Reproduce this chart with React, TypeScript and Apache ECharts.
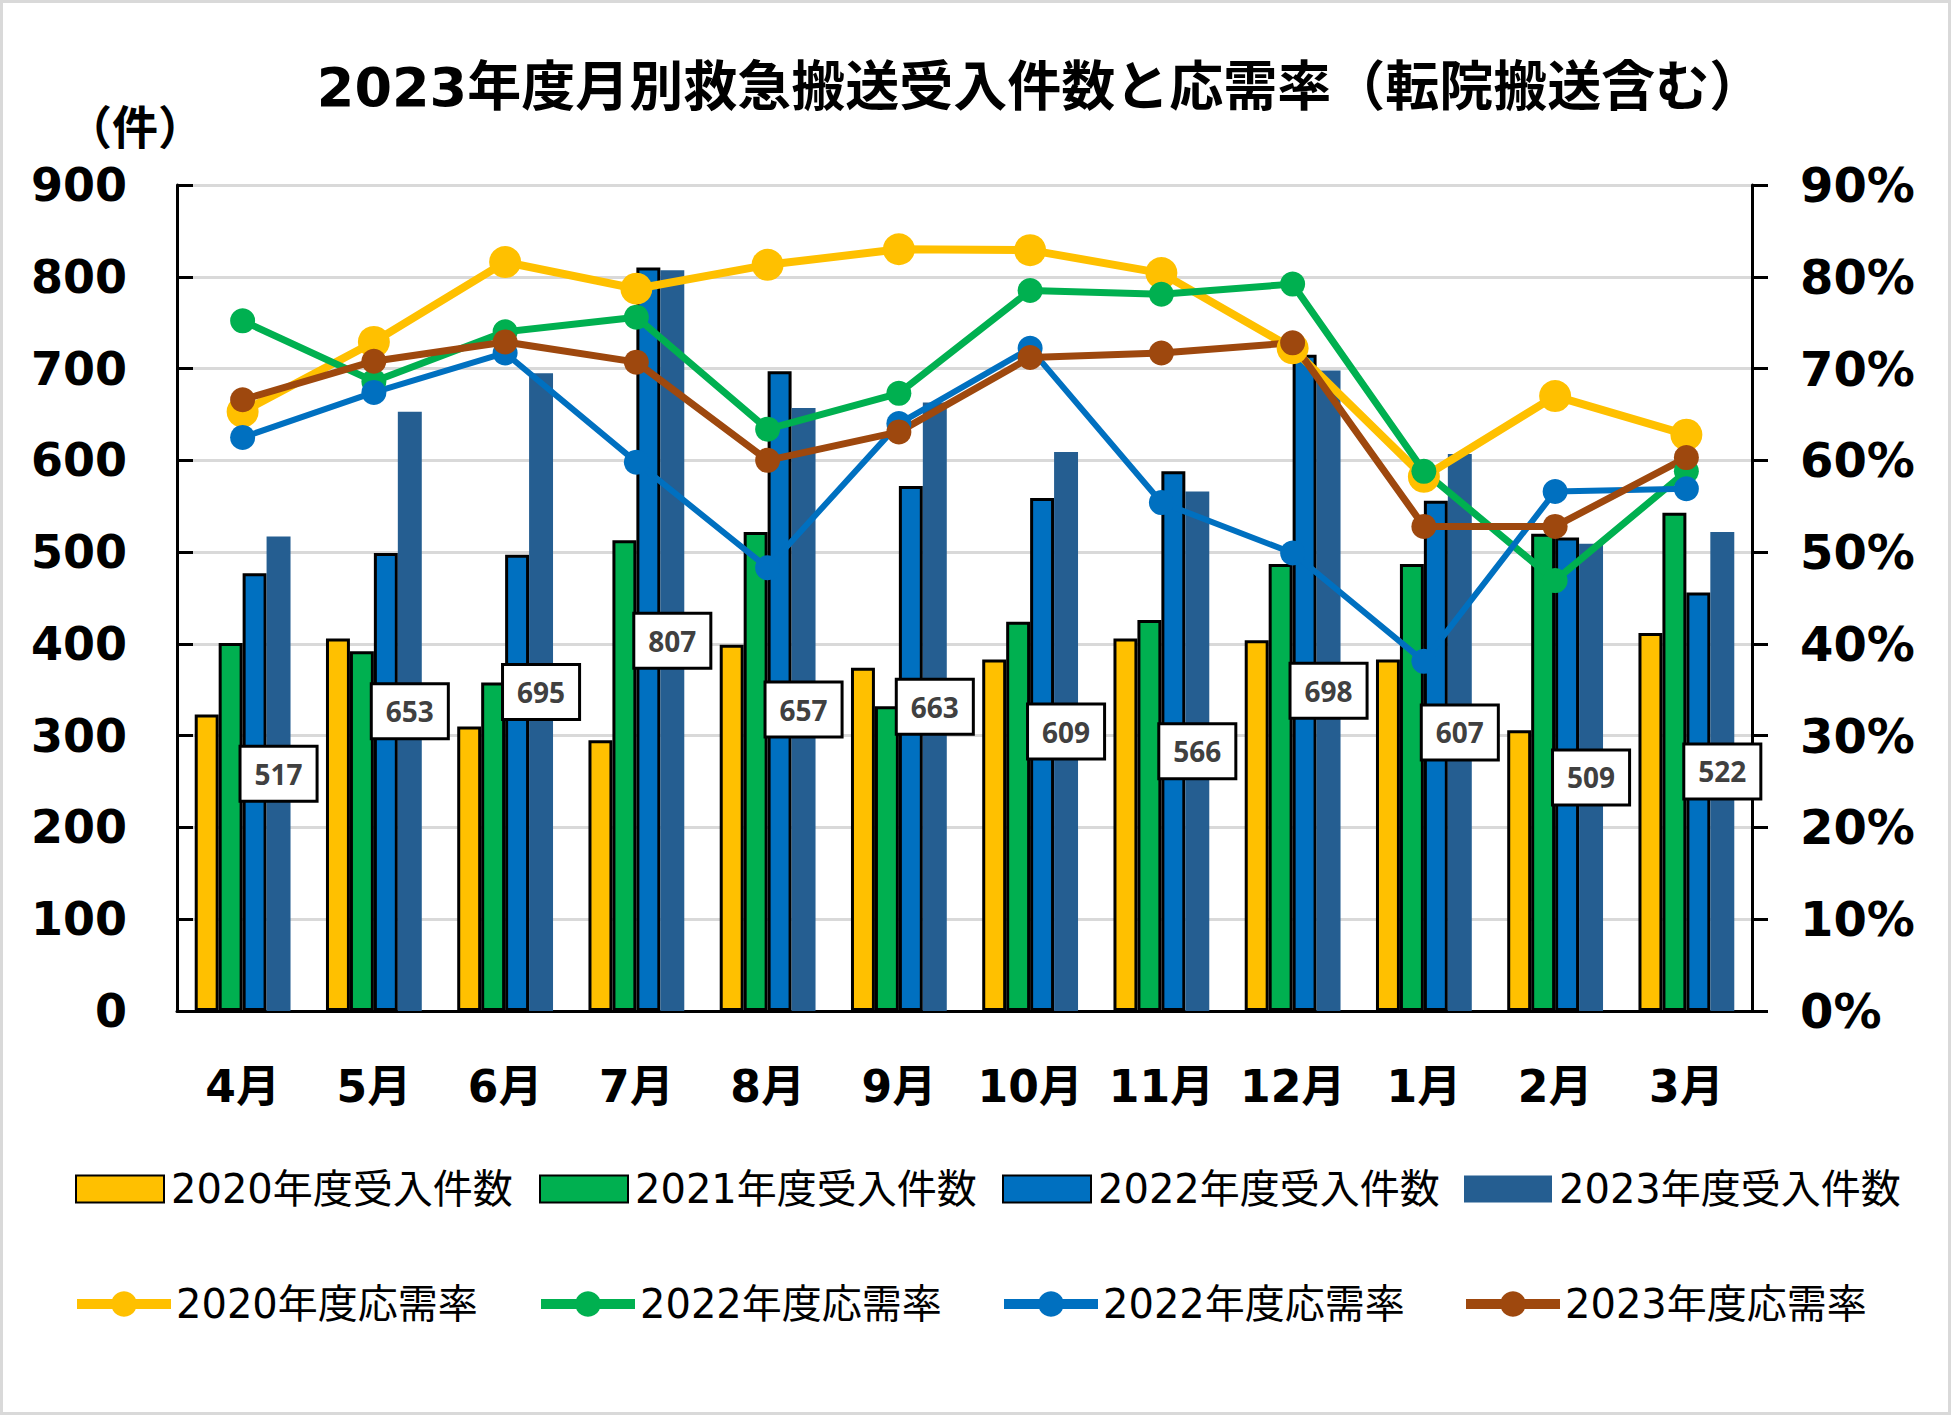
import React, { useEffect, useRef } from "react";
import * as echarts from "echarts";

const months = ["4月", "5月", "6月", "7月", "8月", "9月", "10月", "11月", "12月", "1月", "2月", "3月"];

const cases2020 = [323, 406, 310, 295, 399, 374, 383, 406, 404, 383, 306, 412];
const cases2021 = [401, 392, 358, 513, 522, 332, 424, 426, 487, 487, 520, 543];
const cases2022 = [477, 499, 497, 810, 697, 572, 559, 588, 715, 556, 516, 456];
const cases2023 = [517, 653, 695, 807, 657, 663, 609, 566, 698, 607, 509, 522];

const rate2020 = [65.3, 72.9, 81.6, 78.7, 81.3, 83.0, 82.9, 80.4, 72.2, 58.2, 67.0, 62.8];
const rate2021 = [75.2, 68.6, 74.0, 75.6, 63.4, 67.3, 78.5, 78.1, 79.2, 58.8, 46.9, 58.8];
const rate2022 = [62.5, 67.4, 71.7, 59.8, 48.3, 64.0, 72.2, 55.4, 49.9, 38.1, 56.6, 56.9];
const rate2023 = [66.6, 70.8, 72.9, 70.7, 60.0, 63.1, 71.2, 71.7, 72.8, 52.8, 52.8, 60.3];

const barNames = ["2020年度受入件数", "2021年度受入件数", "2022年度受入件数", "2023年度受入件数"];
// The reference legend labels the green rate line "2022年度応需率" as well.
const lineNames = ["2020年度応需率", "2021年度応需率", "2022年度応需率", "2023年度応需率"];
const lineLegendText: Record<string, string> = {
  "2020年度応需率": "2020年度応需率",
  "2021年度応需率": "2022年度応需率",
  "2022年度応需率": "2022年度応需率",
  "2023年度応需率": "2023年度応需率",
};

const titleText = "2023年度月別救急搬送受入件数と応需率（転院搬送含む）";
const unitText = "（件）";

const C_YELLOW = "#FFC000";
const C_GREEN = "#00B050";
const C_BLUE = "#0070C0";
const C_DARK = "#255E91";
const C_BROWN = "#9E480E";

const FONT = '"DejaVu Sans", "Noto Sans CJK JP", sans-serif';

export default function App() {
  const ref = useRef<HTMLDivElement>(null);
  useEffect(() => {
    document.body.style.margin = "0";
    const chart = echarts.init(ref.current as HTMLDivElement, null, { renderer: "svg" });

    const legendLefts = [75, 539, 1002, 1464];
    const legends: any[] = [];
    barNames.forEach((n, i) => {
      legends.push({
        data: [{ name: n, icon: "rect" }],
        left: legendLefts[i],
        top: 1169,
        padding: 0,
        itemWidth: 88,
        itemHeight: 27,
        textStyle: { fontSize: 40, lineHeight: 40, color: "#000", fontFamily: FONT, padding: [0, 0, 0, 2] },
      });
    });
    lineNames.forEach((n, i) => {
      legends.push({
        data: [n],
        left: legendLefts[i] - 3,
        top: 1284,
        padding: 0,
        itemWidth: 94,
        itemHeight: 32,
        lineStyle: { width: 10 },
        formatter: (name: string) => lineLegendText[name] || name,
        textStyle: { fontSize: 40, lineHeight: 40, color: "#000", fontFamily: FONT },
      });
    });

    const barCommon = {
      type: "bar",
      yAxisIndex: 0,
      barGap: "0%",
      barCategoryGap: "27%",
    };

    const option: any = {
      animation: false,
      backgroundColor: "#fff",
      graphic: [
        {
          type: "rect",
          shape: { x: 1.5, y: 1.5, width: 1948, height: 1412 },
          style: { fill: "none", stroke: "#d9d9d9", lineWidth: 3 },
          silent: true,
        },
        {
          type: "text",
          x: 1040,
          y: 87,
          style: {
            text: titleText,
            textAlign: "center",
            textVerticalAlign: "middle",
            fontSize: 54,
            fontWeight: "bold",
            fontFamily: FONT,
            fill: "#000",
          },
        },
        {
          type: "text",
          x: 135,
          y: 124,
          style: {
            text: unitText,
            textAlign: "center",
            textVerticalAlign: "middle",
            fontSize: 46,
            fontWeight: "bold",
            fontFamily: '"Noto Sans CJK JP", sans-serif',
            fill: "#000",
          },
        },
      ],
      legend: legends,
      grid: { left: 177, right: 199, top: 185, bottom: 404, containLabel: false },
      xAxis: {
        type: "category",
        data: months,
        axisLine: { show: true, lineStyle: { color: "#000", width: 3 } },
        axisTick: { show: false },
        axisLabel: {
          fontSize: 44,
          lineHeight: 44,
          fontWeight: "bold",
          color: "#000",
          fontFamily: FONT,
          margin: 53,
          interval: 0,
        },
      },
      yAxis: [
        {
          type: "value",
          min: 0,
          max: 900,
          interval: 100,
          axisLine: { show: true, lineStyle: { color: "#000", width: 3 } },
          axisTick: { show: true, inside: true, length: 16, lineStyle: { color: "#000", width: 3 } },
          splitLine: { show: true, lineStyle: { color: "#d9d9d9", width: 3 } },
          axisLabel: { fontSize: 46, fontWeight: "bold", color: "#000", fontFamily: FONT, margin: 50 },
        },
        {
          type: "value",
          min: 0,
          max: 90,
          interval: 10,
          position: "right",
          axisLine: { show: true, lineStyle: { color: "#000", width: 3 } },
          axisTick: { show: true, inside: false, length: 16, lineStyle: { color: "#000", width: 3 } },
          splitLine: { show: false },
          axisLabel: {
            fontSize: 48,
            fontWeight: "bold",
            color: "#000",
            fontFamily: FONT,
            margin: 48,
            formatter: "{value}%",
          },
        },
      ],
      series: [
        {
          ...barCommon,
          name: barNames[0],
          data: cases2020,
          itemStyle: { color: C_YELLOW, borderColor: "#000", borderWidth: 3 },
        },
        {
          ...barCommon,
          name: barNames[1],
          data: cases2021,
          itemStyle: { color: C_GREEN, borderColor: "#000", borderWidth: 3 },
        },
        {
          ...barCommon,
          name: barNames[2],
          data: cases2022,
          itemStyle: { color: C_BLUE, borderColor: "#000", borderWidth: 3 },
        },
        {
          ...barCommon,
          name: barNames[3],
          data: cases2023,
          itemStyle: { color: C_DARK },
          label: {
            show: true,
            position: "inside",
            fontSize: 28,
            lineHeight: 30,
            fontWeight: "bold",
            fontFamily: '"Noto Sans", "Open Sans", sans-serif',
            color: "#404040",
            backgroundColor: "#fff",
            borderColor: "#000",
            borderWidth: 3,
            padding: [11, 13],
          },
        },
        {
          type: "line",
          name: lineNames[0],
          yAxisIndex: 1,
          data: rate2020,
          symbol: "circle",
          symbolSize: 32,
          lineStyle: { color: C_YELLOW, width: 8 },
          itemStyle: { color: C_YELLOW },
        },
        {
          type: "line",
          name: lineNames[1],
          yAxisIndex: 1,
          data: rate2021,
          symbol: "circle",
          symbolSize: 25,
          lineStyle: { color: C_GREEN, width: 7 },
          itemStyle: { color: C_GREEN },
        },
        {
          type: "line",
          name: lineNames[2],
          yAxisIndex: 1,
          data: rate2022,
          symbol: "circle",
          symbolSize: 25,
          lineStyle: { color: C_BLUE, width: 6 },
          itemStyle: { color: C_BLUE },
        },
        {
          type: "line",
          name: lineNames[3],
          yAxisIndex: 1,
          data: rate2023,
          symbol: "circle",
          symbolSize: 25,
          lineStyle: { color: C_BROWN, width: 7 },
          itemStyle: { color: C_BROWN },
        },
      ],
    };

    chart.setOption(option);
    return () => chart.dispose();
  }, []);
  return <div ref={ref} style={{ width: 1951, height: 1415 }} />;
}
